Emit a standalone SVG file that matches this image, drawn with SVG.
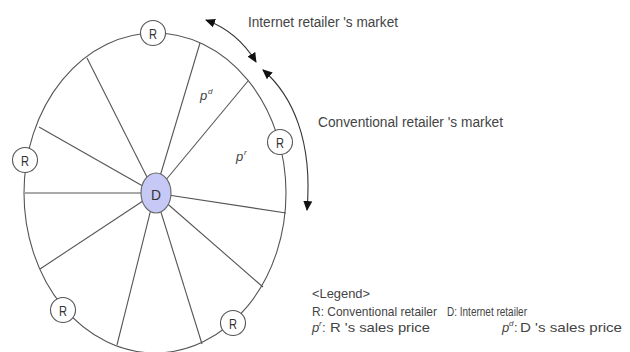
<svg xmlns="http://www.w3.org/2000/svg" width="630" height="352" viewBox="0 0 630 352">
<style>
.ln{stroke:#555;stroke-width:1.1;fill:none}
.rc{fill:#fff;stroke:#555;stroke-width:1.1}
.rt{font-family:"Liberation Sans",Arial,sans-serif;font-size:15px;fill:#333;text-anchor:middle}
.tx{font-family:"Liberation Sans",Arial,sans-serif;font-size:14px;fill:#444}
.lg{font-family:"Liberation Sans",Arial,sans-serif;font-size:13px;fill:#444}
.pv{font-family:"Liberation Sans",Arial,sans-serif;font-size:13px;font-style:italic;fill:#444}
.sp{font-family:"Liberation Sans",Arial,sans-serif;font-size:8px;font-style:italic;fill:#444}
.ar{stroke:#333;stroke-width:1.1;fill:none;marker-start:url(#ah);marker-end:url(#ah)}
</style>
<defs>
<marker id="ah" viewBox="0 0 10 10" refX="9" refY="5" markerWidth="10" markerHeight="10" markerUnits="userSpaceOnUse" orient="auto-start-reverse">
<path d="M0,0.5 L10,5 L0,9.5 Z" fill="#111"/>
</marker>
</defs>
<g id="market">
<ellipse class="ln" cx="155" cy="193" rx="131" ry="160"/>
</g>
<g id="connectors">
<line class="ln" x1="155" y1="193" x2="87" y2="58"/>
<line class="ln" x1="155" y1="193" x2="39" y2="127"/>
<line class="ln" x1="155" y1="193" x2="25" y2="193"/>
<line class="ln" x1="155" y1="193" x2="200" y2="43"/>
<line class="ln" x1="155" y1="193" x2="248" y2="81"/>
<line class="ln" x1="155" y1="193" x2="286" y2="213"/>
<line class="ln" x1="155" y1="193" x2="40" y2="269"/>
<line class="ln" x1="155" y1="193" x2="117" y2="345"/>
<line class="ln" x1="155" y1="193" x2="202" y2="344"/>
<line class="ln" x1="155" y1="193" x2="263" y2="287"/>
<path class="ar" d="M206,20 Q238,32 256,62"/>
<path class="ar" d="M263,70 C292,95 313,140 307,210"/>
</g>
<g id="D">
<ellipse cx="156" cy="193" rx="15" ry="20" fill="#c6c8f6" stroke="#666" stroke-width="1.1"/>
<text class="rt" x="156" y="200" font-size="19" textLength="10" lengthAdjust="spacingAndGlyphs">D</text>
</g>
<g id="R1"><circle class="rc" cx="153" cy="33" r="12.5"/><text class="rt" x="153" y="39" textLength="8" lengthAdjust="spacingAndGlyphs">R</text></g>
<g id="R2"><circle class="rc" cx="25" cy="160" r="12.5"/><text class="rt" x="25" y="166" textLength="8" lengthAdjust="spacingAndGlyphs">R</text></g>
<g id="R3"><circle class="rc" cx="280" cy="142" r="12.5"/><text class="rt" x="280" y="148" textLength="8" lengthAdjust="spacingAndGlyphs">R</text></g>
<g id="R4"><circle class="rc" cx="63" cy="310" r="12.5"/><text class="rt" x="63" y="316" textLength="8" lengthAdjust="spacingAndGlyphs">R</text></g>
<g id="R5"><circle class="rc" cx="233" cy="323" r="12.5"/><text class="rt" x="233" y="329" textLength="8" lengthAdjust="spacingAndGlyphs">R</text></g>
<g id="labels">
<text class="pv" x="200" y="100">p</text><text class="sp" x="208" y="94">d</text>
<text class="pv" x="236" y="161">p</text><text class="sp" x="244" y="155">r</text>
<text class="tx" x="248" y="27" textLength="150" lengthAdjust="spacingAndGlyphs">Internet retailer 's market</text>
<text class="tx" x="318" y="127" textLength="185" lengthAdjust="spacingAndGlyphs">Conventional retailer 's market</text>
</g>
<g id="legend">
<text class="lg" x="312" y="298" textLength="58" lengthAdjust="spacingAndGlyphs">&lt;Legend&gt;</text>
<text class="lg" x="312" y="316" font-size="12" textLength="125" lengthAdjust="spacingAndGlyphs">R: Conventional retailer</text>
<text class="lg" x="447" y="316" font-size="12" textLength="80" lengthAdjust="spacingAndGlyphs">D: Internet retailer</text>
<text class="pv" x="312" y="332">p</text><text class="sp" x="319" y="326">r</text>
<text class="lg" x="322" y="332">:</text>
<text class="lg" x="330" y="332" textLength="100" lengthAdjust="spacingAndGlyphs">R 's sales price</text>
<text class="pv" x="502" y="332">p</text><text class="sp" x="509" y="326">d</text>
<text class="lg" x="514" y="332">:</text>
<text class="lg" x="520" y="332" textLength="102" lengthAdjust="spacingAndGlyphs">D 's sales price</text>
</g>
</svg>
